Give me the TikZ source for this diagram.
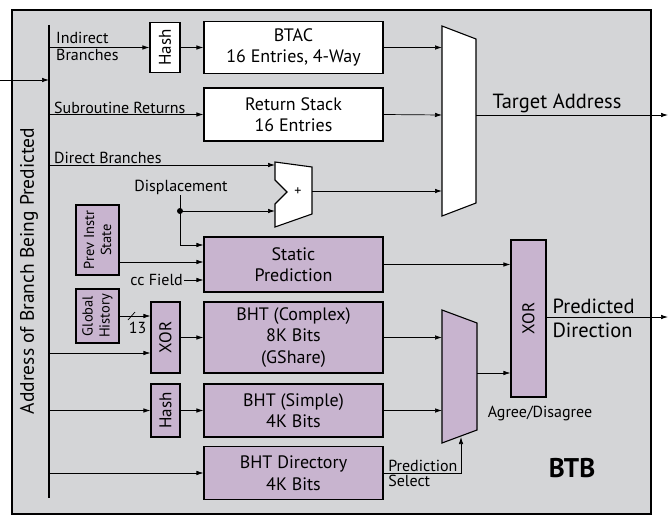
\documentclass[tikz,border=0pt]{standalone}
\usepackage{fontspec}
\setmainfont{PT Sans}
\usetikzlibrary{arrows.meta,positioning}
\definecolor{btbgray}{RGB}{212,213,215}
\definecolor{lilac}{RGB}{200,180,207}
\tikzset{
    wire/.style={line width=0.7pt, -{Latex[length=7pt,width=4.5pt]}},
    plain/.style={line width=0.7pt},
    unit/.style={draw, line width=1.1pt, fill=white, inner sep=0pt, minimum width=179pt, minimum height=53pt,
        align=center, font=\fontsize{18}{21.5}\selectfont},
    predunit/.style={unit, fill=lilac},
    tallbox/.style={draw, line width=1.1pt, fill=lilac, inner sep=0pt, rotate=90, align=center,
        font=\fontsize{17}{18}\selectfont},
    lbl/.style={font=\fontsize{16}{17}\selectfont, inner sep=1pt, align=left}
}
\begin{document}
\begin{tikzpicture}[x=1pt,y=-1pt]
    \useasboundingbox (0,0) rectangle (669,516);

    % Draw the BTB frame and the address bus
    \draw[fill=btbgray, line width=1.2pt] (12,10) rectangle (651,514);
    \coordinate (bustop) at (49,25);
    \coordinate (busbot) at (49,498);
    \draw[line width=2.4pt] (bustop) -- (busbot);
    \node[rotate=90, font=\fontsize{19.5}{20}\selectfont] (addr) at (29,271) {Address of Branch Being Predicted};
    \coordinate (addrin) at (0,80);
    \draw[wire] (addrin) -- (addrin -| bustop);

    % Draw the tables
    \node[unit, minimum height=52pt] (btac) at (293.5,47.5) {BTAC\\16 Entries, 4-Way};
    \node[unit] (retstack) at (293.5,114.5) {Return Stack\\16 Entries};
    \node[predunit, minimum height=55pt] (static) at (293.5,264.5) {Static\\Prediction};
    \node[predunit, minimum height=71pt] (bhtc) at (293.5,337.5) {BHT (Complex)\\8K Bits\\(GShare)};
    \node[predunit] (bhts) at (293.5,410.5) {BHT (Simple)\\4K Bits};
    \node[predunit] (bhtd) at (293.5,473) {BHT Directory\\4K Bits};

    % Draw the small upright boxes (rotated: north is the left side, south the right side)
    \node[tallbox, fill=white, minimum width=50pt, minimum height=30pt] (hashA) at (165,47.5) {Hash};
    \node[tallbox, minimum width=71pt, minimum height=29pt] (xorA) at (165.5,337.5) {XOR};
    \node[tallbox, minimum width=53pt, minimum height=29pt] (hashB) at (165.5,410.5) {Hash};
    \node[tallbox, minimum width=157pt, minimum height=35pt] (xorB) at (528.5,318.5) {XOR};
    \node[tallbox, minimum width=70pt, minimum height=43pt, font=\fontsize{14.5}{17}\selectfont] (prevst) at (97.5,240) {Prev Instr\\State};
    \node[tallbox, minimum width=54pt, minimum height=43pt, font=\fontsize{14.5}{17}\selectfont] (globhist) at (97.5,316) {Global\\History};

    % Draw the adder and the two multiplexers
    \draw[fill=white, line width=1.1pt] (275,162) -- (312,167) -- (312,214) -- (275,227) -- (275,204) -- (287,192) -- (275,180) -- cycle;
    \node[font=\fontsize{14}{15}\selectfont] (plus) at (298,192) {+};
    \coordinate (adddir) at (275,165);
    \coordinate (adddisp) at (275,211);
    \coordinate (addout) at (312,191);
    \draw[fill=white, line width=1.1pt] (442,26) -- (476,39) -- (476,203) -- (442,216) -- cycle;
    \coordinate (tmux) at (442,115);
    \coordinate (tmuxout) at (476,115);
    \draw[fill=lilac, line width=1.1pt] (442,310) -- (477,323) -- (477,430) -- (442,443) -- cycle;
    \coordinate (dmux) at (442,373);
    \coordinate (dmuxout) at (477,373);
    \coordinate (dmuxsel) at (461,437);

    % Draw the inputs taken from the bus
    \draw[wire] (bustop |- hashA) -- (hashA.north);
    \node[lbl, anchor=west] (indlbl) at (55,46.5) {Indirect\\Branches};
    \draw[wire] (hashA.south) -- (btac.west);
    \draw[wire] (bustop |- retstack) -- (retstack.west);
    \node[lbl, anchor=south west] (sublbl) at ([xshift=4pt]bustop |- retstack) {Subroutine Returns};
    \draw[wire] (adddir -| bustop) -- (adddir);
    \node[lbl, anchor=south west] (dirlbl) at ([xshift=4pt]adddir -| bustop) {Direct Branches};
    \draw[wire] (bustop |- 0,353) -- (xorA.north |- 0,353);
    \foreach \src/\dst in {hashB/bhts, xorA/bhtc} {
        \draw[wire] (\src.south) -- (\dst.west);
    }
    \draw[wire] (bustop |- hashB) -- (hashB.north);
    \draw[wire] (bustop |- bhtd) -- (bhtd.west);

    % Draw the displacement and the static prediction inputs
    \node[lbl] (displbl) at (181,187) {Displacement};
    \coordinate (dispdot) at (180,211);
    \draw[plain] (displbl.south -| dispdot) -- (dispdot);
    \fill (dispdot) circle (3pt);
    \draw[wire] (dispdot) -- (adddisp);
    \draw[wire] (dispdot) |- ([yshift=19.5pt]static.west);
    \draw[wire] (prevst.south |- 0,262) -- (static.west |- 0,262);
    \node[lbl, anchor=east] (cclbl) at (184,280) {cc Field};
    \draw[wire] (cclbl.east) -- (cclbl.east -| static.west);

    % Draw the global history into the XOR
    \draw[wire] (globhist.south |- 0,316) -- (xorA.north |- 0,316);
    \draw[plain] (128,320) -- (135,312);
    \node[lbl] (histbits) at (137.5,328) {13};

    % Draw the target address path
    \draw[wire] (btac.east) -- (btac.east -| tmux);
    \draw[wire] (retstack.east) -- (tmux);
    \draw[wire] (addout) -- (addout -| tmux);
    \coordinate (tgtout) at (668,115);
    \draw[wire] (tmuxout) -- (tgtout);
    \node[font=\fontsize{20.5}{22}\selectfont, anchor=south, inner sep=2pt] (tgtlbl) at (557,115) {Target Address};

    % Draw the direction path
    \draw[wire] (static.east) -- (static.east -| xorB.north);
    \draw[wire] (bhtc.east) -- (bhtc.east -| dmux);
    \draw[wire] (bhts.east) -- (bhts.east -| dmux);
    \draw[wire] (dmuxout) -- (dmuxout -| xorB.north);
    \draw[wire] (bhtd.east) -| (dmuxsel);
    \node[lbl, anchor=south west, inner sep=1.5pt] (sellbl) at ([xshift=3pt]bhtd.east) {Prediction};
    \node[lbl, anchor=north west, inner sep=1.5pt] (sellblb) at ([xshift=3pt]bhtd.east) {Select};
    \coordinate (dirout) at (668,317);
    \draw[wire] (xorB.south |- dirout) -- (dirout);
    \node[font=\fontsize{20.5}{24}\selectfont, anchor=west, align=left] (dirlbl) at (549,318) {Predicted\\Direction};
    \node[lbl] (agreelbl) at (540,413) {Agree/Disagree};
    \node[font=\bfseries\fontsize{27}{29}\selectfont] (btb) at (572,468) {BTB};
\end{tikzpicture}
\end{document}
